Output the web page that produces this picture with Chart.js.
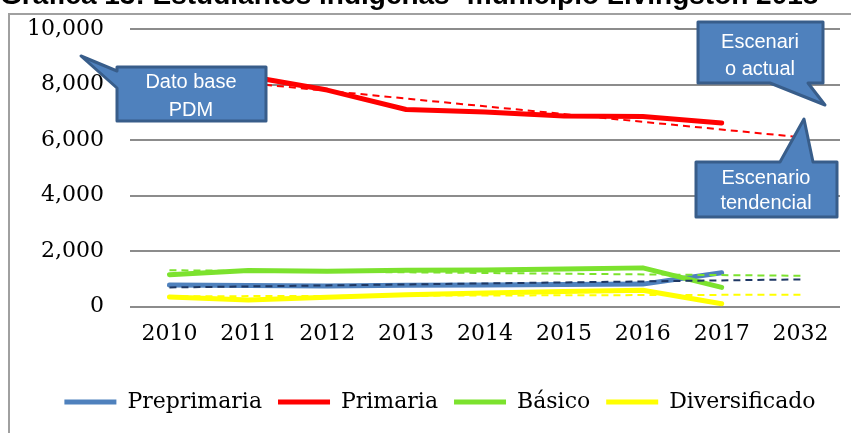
<!DOCTYPE html>
<html>
<head>
<meta charset="utf-8">
<script src="https://cdn.jsdelivr.net/npm/chart.js@4.4.1/dist/chart.umd.min.js"></script>
<style>
  body { margin: 0; background: #fff; }
  #wrap { position: relative; width: 851px; height: 433px; overflow: hidden; }
  #caja { position: absolute; left: 0; top: 0; width: 851px; height: 433px; }
  #titulo { position: absolute; left: 0; top: -19px; font: bold 28px 'Liberation Sans', sans-serif; line-height: 28px; white-space: nowrap; color: #000; }
</style>
</head>
<body>
<div id="wrap">
  <div id="caja"><canvas id="myChart"></canvas></div>
  <div id="titulo">Gráfica 13: Estudiantes indígenas -municipio Livingston 2018</div>
</div>
<script>
const anios = ['2010', '2011', '2012', '2013', '2014', '2015', '2016', '2017', '2032'];

const preprimaria = [780, 760, 740, 770, 780, 800, 810, 1220, null];
const primaria = [8400, 8300, 7800, 7100, 7010, 6870, 6850, 6610, null];
const basico = [1150, 1300, 1270, 1310, 1320, 1350, 1395, 690, null];
const diversificado = [350, 240, 340, 430, 490, 540, 590, 100, null];

// lineas de tendencia: solo los extremos 2010 y 2032
const tendPreprimaria = [690, null, null, null, null, null, null, null, 980];
const tendPrimaria = [8330, null, null, null, null, null, null, null, 6100];
const tendBasico = [1310, null, null, null, null, null, null, null, 1110];
const tendDiversificado = [370, null, null, null, null, null, null, null, 430];

const fuenteEje = { family: 'DejaVu Serif', size: 22 };

function serie(label, data, color, orden) {
  return {
    label: label,
    data: data,
    borderColor: color,
    backgroundColor: color,
    borderWidth: 5,
    borderCapStyle: 'round',
    borderJoinStyle: 'round',
    pointRadius: 0,
    tension: 0,
    order: orden,
  };
}

function tendencia(label, data, color) {
  return {
    label: label,
    data: data,
    borderColor: color,
    borderWidth: 2,
    borderDash: [7, 5],
    pointRadius: 0,
    spanGaps: true,
    order: 0,
  };
}

// cuadros de texto (globos) y marco del grafico
function globo(ctx, puntos, lineas) {
  ctx.save();
  ctx.beginPath();
  ctx.moveTo(puntos[0][0], puntos[0][1]);
  for (let i = 1; i < puntos.length; i++) ctx.lineTo(puntos[i][0], puntos[i][1]);
  ctx.closePath();
  ctx.fillStyle = '#4f81bd';
  ctx.fill();
  ctx.lineWidth = 3;
  ctx.lineJoin = 'round';
  ctx.strokeStyle = '#385d8a';
  ctx.stroke();
  ctx.fillStyle = '#fff';
  ctx.font = '20px "Liberation Sans", Arial, sans-serif';
  ctx.textAlign = 'center';
  ctx.textBaseline = 'alphabetic';
  lineas.forEach(function (l) { ctx.fillText(l[0], l[1], l[2]); });
  ctx.restore();
}

const extras = {
  id: 'extras',
  afterLayout(chart) {
    // la leyenda va un poco a la derecha del centro
    chart.legend.left += 20;
    chart.legend.right += 20;
  },
  beforeDraw(chart) {
    const ctx = chart.ctx;
    ctx.save();
    ctx.strokeStyle = '#a0a0a0';
    ctx.lineWidth = 2;
    ctx.strokeRect(9, 14, 870, 450);
    ctx.restore();
  },
  afterDraw(chart) {
    const ctx = chart.ctx;
    globo(ctx,
      [[117, 67], [266, 67], [266, 121], [117, 121], [117, 88], [81, 56], [117, 71]],
      [['Dato base', 191, 88], ['PDM', 191, 116]]);
    globo(ctx,
      [[698, 22], [823, 22], [823, 83], [808, 83], [825, 105], [770, 83], [698, 83]],
      [['Escenari', 760, 48], ['o actual', 760, 75]]);
    globo(ctx,
      [[696, 162], [780, 162], [804, 119], [813, 162], [837, 162], [837, 217], [696, 217]],
      [['Escenario', 766, 184], ['tendencial', 766, 209]]);
  },
};

const ctx = document.getElementById('myChart').getContext('2d');
const myChart = new Chart(ctx, {
  type: 'line',
  data: {
    labels: anios,
    datasets: [
      serie('Preprimaria', preprimaria, '#4f81bd', 4),
      serie('Primaria', primaria, '#ff0000', 3),
      serie('Básico', basico, '#7ce22e', 2),
      serie('Diversificado', diversificado, '#ffff00', 1),
      tendencia('Tendencia Preprimaria', tendPreprimaria, '#1f3864'),
      tendencia('Tendencia Primaria', tendPrimaria, '#ff0000'),
      tendencia('Tendencia Básico', tendBasico, '#7ce22e'),
      tendencia('Tendencia Diversificado', tendDiversificado, '#ffff00'),
    ],
  },
  options: {
    responsive: true,
    maintainAspectRatio: false,
    animation: false,
    layout: { padding: { left: 0, right: 11, top: 29, bottom: 10 } },
    plugins: {
      legend: {
        position: 'bottom',
        labels: {
          filter: (item) => item.datasetIndex < 4,
          sort: (a, b) => a.datasetIndex - b.datasetIndex,
          usePointStyle: true,
          pointStyle: 'line',
          pointStyleWidth: 52,
          padding: 16,
          color: '#000',
          font: fuenteEje,
        },
      },
      tooltip: { enabled: false },
    },
    scales: {
      x: {
        offset: true,
        afterFit: (s) => { s.height += 22; },
        grid: { display: false },
        border: { display: false },
        ticks: { color: '#000', font: fuenteEje, padding: 6, maxRotation: 0 },
      },
      y: {
        min: 0,
        max: 10000,
        afterFit: (s) => { s.width = 130; },
        grid: { color: '#8c8c8c', lineWidth: 2, drawTicks: true, tickLength: 26, tickColor: 'rgba(0,0,0,0)' },
        border: { display: false },
        ticks: { stepSize: 2000, color: '#000', font: fuenteEje, padding: 0 },
      },
    },
  },
  plugins: [extras],
});
</script>
</body>
</html>
